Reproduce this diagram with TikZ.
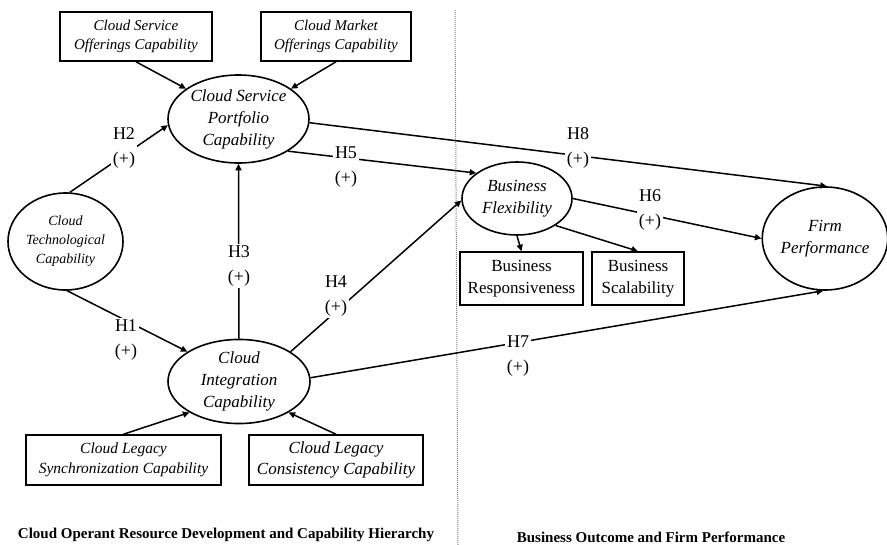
\documentclass[tikz,border=0pt]{standalone}
\usepackage{fontspec}
\setmainfont{Liberation Serif}
\usetikzlibrary{shapes.geometric,arrows.meta}
\begin{document}
\begin{tikzpicture}[x=1pt,y=-1pt,
  box/.style={draw,line width=1.6pt,inner sep=0pt,align=center},
  ell/.style={draw,ellipse,line width=1.6pt,inner sep=0pt,align=center},
  conn/.style={line width=1.5pt,-{Triangle[length=6.5pt,width=6pt]}},
  hyp/.style={fill=white,inner sep=1.5pt,align=center,font={\fontsize{18}{25}\selectfont}},
  foot/.style={font={\fontsize{15}{18}\selectfont\bfseries}},
]
\useasboundingbox (0,0) rectangle (887,545);
% divider
\draw[gray,densely dotted,line width=1pt] (455,10) -- (458,545);
% boxes
\node[box,minimum width=152pt,minimum height=49pt,font={\fontsize{15}{19.5}\selectfont\itshape}] (sb1) at (136,36.5) {Cloud Service\\Offerings Capability};
\node[box,minimum width=150pt,minimum height=49pt,font={\fontsize{15}{19.5}\selectfont\itshape}] (sb2) at (336,36.5) {Cloud Market\\Offerings Capability};
\node[box,minimum width=195pt,minimum height=50pt,font={\fontsize{15.5}{19.5}\selectfont\itshape}] (sync) at (123.5,460) {Cloud Legacy\\Synchronization Capability};
\node[box,minimum width=174pt,minimum height=50pt,font={\fontsize{17}{21.5}\selectfont\itshape}] (cons) at (336,460) {Cloud Legacy\\Consistency Capability};
\node[box,minimum width=123pt,minimum height=53pt,font={\fontsize{17}{22}\selectfont}] (resp) at (521.5,278.5) {Business\\Responsiveness};
\node[box,minimum width=92pt,minimum height=53pt,font={\fontsize{17}{22}\selectfont}] (scal) at (638,278.5) {Business\\Scalability};
% ellipses
\node[ell,minimum width=141pt,minimum height=88pt,font={\fontsize{17}{22}\selectfont\itshape}] (port) at (238.5,119) {Cloud Service\\Portfolio\\Capability};
\node[ell,minimum width=115pt,minimum height=97pt,font={\fontsize{14}{19}\selectfont\itshape}] (tech) at (65.5,241.5) {Cloud\\Technological\\Capability};
\node[ell,minimum width=142pt,minimum height=83pt,font={\fontsize{17}{22}\selectfont\itshape}] (integ) at (239,381.5) {Cloud\\Integration\\Capability};
\node[ell,minimum width=110pt,minimum height=73pt,font={\fontsize{17}{22}\selectfont\itshape}] (bf) at (517,198.5) {Business\\Flexibility};
\node[ell,minimum width=124pt,minimum height=103pt,font={\fontsize{17}{22}\selectfont\itshape}] (fp) at (825,238.5) {Firm\\Performance};
% indicator arrows
\draw[conn] (sb1.south) -- (port.150);
\draw[conn] (sb2.south) -- (port.30);
\draw[conn] (sync.north) -- (integ.212);
\draw[conn] (cons.north) -- (integ.328);
\draw[conn] (bf.south) -- (resp.north);
\draw[conn] (bf.-35) -- (scal.north);
% hypotheses
\draw[conn] (tech.85) -- (port.185);
\draw[conn] (tech.272) -- (integ.150);
\draw[conn] (integ.north) -- (port.south);
\draw[conn] (integ.30) -- (bf.182);
\draw[conn] (port.-33) -- (bf.148);
\draw[conn] (port.-3) -- (fp.88);
\draw[conn] (bf.east) -- (fp.west);
\draw[conn] (integ.3) -- (fp.268);
% labels
\node[hyp] (h2) at (124,148) {H2\\(+)};
\node[hyp] (h1) at (126,340) {H1\\(+)};
\node[hyp] (h3) at (239,266) {H3\\(+)};
\node[hyp] (h4) at (336,296) {H4\\(+)};
\node[hyp] (h5) at (346,167) {H5\\(+)};
\node[hyp] (h8) at (578,148) {H8\\(+)};
\node[hyp] (h6) at (650,210) {H6\\(+)};
\node[hyp] (h7) at (518,356) {H7\\(+)};
% footers
\node[foot] (fl) at (226,535) {Cloud Operant Resource Development and Capability Hierarchy};
\node[foot] (fr) at (651,537) {Business Outcome and Firm Performance};
\end{tikzpicture}
\end{document}
